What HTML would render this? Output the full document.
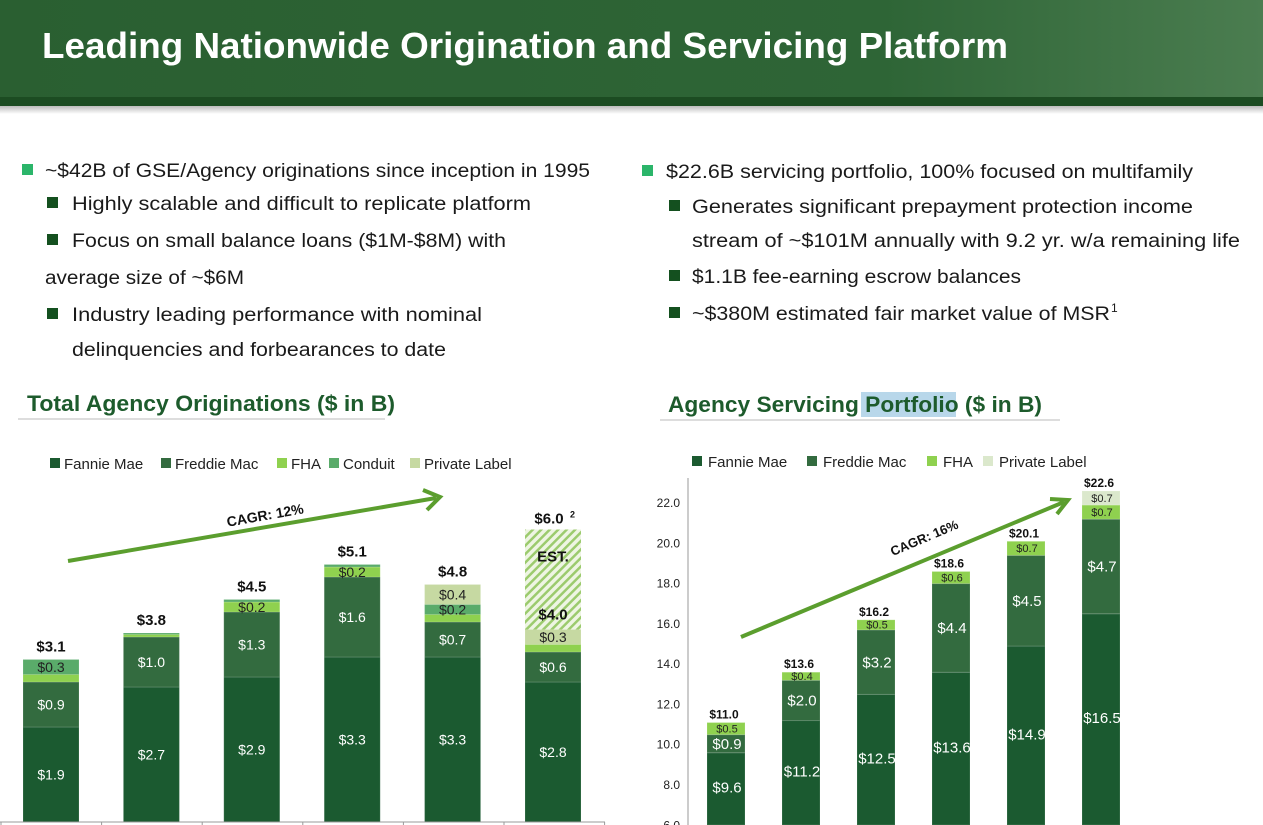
<!DOCTYPE html>
<html><head><meta charset="utf-8">
<style>
html,body{margin:0;padding:0;background:#fff;}
svg{display:block;font-family:"Liberation Sans",sans-serif;}
</style></head>
<body>
<svg id="page" width="1263" height="825" viewBox="0 0 1263 825" xmlns="http://www.w3.org/2000/svg">
<defs>
<linearGradient id="hdr" x1="0" x2="1" y1="0" y2="0">
<stop offset="0" stop-color="#2a5f31"/><stop offset="0.7" stop-color="#2e6536"/><stop offset="1" stop-color="#4b7d50"/>
</linearGradient>
<linearGradient id="shadow" x1="0" y1="0" x2="0" y2="1">
<stop offset="0" stop-color="#bbb"/><stop offset="1" stop-color="#fff"/>
</linearGradient>
<pattern id="hatch" width="6" height="6" patternUnits="userSpaceOnUse" patternTransform="rotate(45)">
<rect width="6" height="6" fill="#eef5e3"/><rect width="2.5" height="6" fill="#9ccb6e"/>
</pattern>
</defs>
<g>
<rect x="0" y="0" width="1263" height="98" fill="url(#hdr)"/>
<rect x="0" y="97" width="1263" height="9" fill="#1c4c22"/>
<rect x="0" y="106" width="1263" height="8" fill="url(#shadow)"/>
<text x="42" y="58" font-size="36" font-weight="bold" fill="#fff" textLength="966" lengthAdjust="spacingAndGlyphs">Leading Nationwide Origination and Servicing Platform</text>
</g>
<g font-size="19" fill="#1a1a1a">
<rect x="22" y="164" width="11" height="11" fill="#2bb56a"/>
<text x="45" y="177" textLength="545" lengthAdjust="spacingAndGlyphs">~$42B of GSE/Agency originations since inception in 1995</text>
<rect x="47" y="197" width="11" height="11" fill="#14501f"/>
<text x="72" y="210" textLength="459" lengthAdjust="spacingAndGlyphs">Highly scalable and difficult to replicate platform</text>
<rect x="47" y="234" width="11" height="11" fill="#14501f"/>
<text x="72" y="247" textLength="434" lengthAdjust="spacingAndGlyphs">Focus on small balance loans ($1M-$8M) with</text>
<text x="45" y="284" textLength="199" lengthAdjust="spacingAndGlyphs">average size of ~$6M</text>
<rect x="47" y="308" width="11" height="11" fill="#14501f"/>
<text x="72" y="321" textLength="410" lengthAdjust="spacingAndGlyphs">Industry leading performance with nominal</text>
<text x="72" y="356" textLength="374" lengthAdjust="spacingAndGlyphs">delinquencies and forbearances to date</text>
</g>
<g font-size="19" fill="#1a1a1a">
<rect x="642" y="165" width="11" height="11" fill="#2bb56a"/>
<text x="666" y="178" textLength="527" lengthAdjust="spacingAndGlyphs">$22.6B servicing portfolio, 100% focused on multifamily</text>
<rect x="669" y="200" width="11" height="11" fill="#14501f"/>
<text x="692" y="213" textLength="501" lengthAdjust="spacingAndGlyphs">Generates significant prepayment protection income</text>
<text x="692" y="247" textLength="548" lengthAdjust="spacingAndGlyphs">stream of ~$101M annually with 9.2 yr. w/a remaining life</text>
<rect x="669" y="270" width="11" height="11" fill="#14501f"/>
<text x="692" y="283" textLength="329" lengthAdjust="spacingAndGlyphs">$1.1B fee-earning escrow balances</text>
<rect x="669" y="307" width="11" height="11" fill="#14501f"/>
<text x="692" y="320" textLength="418" lengthAdjust="spacingAndGlyphs">~$380M estimated fair market value of MSR</text>
<text x="1111" y="312" font-size="12">1</text>
</g>
<g>
<text x="27" y="411" font-size="22" font-weight="bold" fill="#1d5b2c" textLength="368" lengthAdjust="spacingAndGlyphs">Total Agency Originations ($ in B)</text>
<rect x="18" y="418" width="367" height="2" fill="#ddd"/>
</g>
<g>
<rect x="861" y="392" width="95" height="25" fill="#b8d7ea"/>
<text x="668" y="412" font-size="22" font-weight="bold" fill="#1d5b2c" textLength="374" lengthAdjust="spacingAndGlyphs">Agency Servicing Portfolio ($ in B)</text>
<rect x="660" y="419" width="400" height="2" fill="#ddd"/>
</g>
<g id="left-chart"></g>
<g id="right-chart"></g>
</svg>
<script>
// ---- Left chart data ----
const origYears = ["2015","2016","2017","2018","2019","2020E"];
const origFannie = [1.9, 2.7, 2.9, 3.3, 3.3, 2.8];
const origFreddie = [0.9, 1.0, 1.3, 1.6, 0.7, 0.6];
const origFHA = [0.15, 0.05, 0.2, 0.2, 0.15, 0.15];
const origConduit = [0.3, 0.03, 0.05, 0.05, 0.2, 0.0];
const origPrivate = [0, 0, 0, 0, 0.4, 0.3];
const origTotals = ["$3.1","$3.8","$4.5","$5.1","$4.8","$4.0"];
const origEstimate = 5.85;
// ---- Right chart data ----
const svcYears = ["2015","2016","2017","2018","2019","2020"];
const svcFannie = [9.6, 11.2, 12.5, 13.6, 14.9, 16.5];
const svcFreddie = [0.9, 2.0, 3.2, 4.4, 4.5, 4.7];
const svcFHA = [0.6, 0.4, 0.5, 0.6, 0.7, 0.7];
const svcPrivate = [0, 0, 0, 0, 0, 0.7];
const svcTotals = ["$11.0","$13.6","$16.2","$18.6","$20.1","$22.6"];
const svcTicks = [6, 8, 10, 12, 14, 16, 18, 20, 22];

const NS = "http://www.w3.org/2000/svg";
function mk(parent, tag, attrs, txt){
  const e = document.createElementNS(NS, tag);
  for (const k in attrs) e.setAttribute(k, attrs[k]);
  if (txt !== undefined) e.textContent = txt;
  parent.appendChild(e);
  return e;
}
const COL = {fannie:"#1b5a30", freddie:"#336b3f", fha:"#8fd14f", conduit:"#5aab6a", priv:"#c6d9a2", priv2:"#dbe8cc"};

// ===== LEFT =====
const L = document.getElementById('left-chart');
const lBase = 822, lScale = 50, lBarW = 56;
const lx = i => 51 + i * 100.4;
const ly = v => lBase - v * lScale;

const lLeg = [["Fannie Mae",COL.fannie,50],["Freddie Mac",COL.freddie,161],["FHA",COL.fha,277],["Conduit",COL.conduit,329],["Private Label",COL.priv,410]];
lLeg.forEach(d=>{
  const g = mk(L,'g',{});
  
  
  mk(g,'rect',{x:d[2],y:458,width:10,height:10,fill:d[1]});
  mk(g,'text',{x:d[2]+14,y:469,'font-size':15,fill:'#222'},d[0]);
});

const lSeries = [[origFannie,COL.fannie,'#fff'],[origFreddie,COL.freddie,'#fff'],[origFHA,COL.fha,'#222'],[origConduit,COL.conduit,'#222'],[origPrivate,COL.priv,'#222']];
origYears.forEach((yr,i)=>{
  let cum = 0;
  const cx = lx(i);
  lSeries.forEach((s,si)=>{
    const v = s[0][i];
    if (v<=0) return;
    const r = mk(L,'rect',{x:cx-lBarW/2,y:ly(cum+v),width:lBarW,height:v*lScale,fill:s[1],stroke:'rgba(255,255,255,0.15)','stroke-width':1});
    
    
    if (v>=0.2){
      const t = mk(L,'text',{x:cx,y:ly(cum+v/2)+5,'font-size':14,'text-anchor':'middle',fill:s[2]},'$'+v.toFixed(1));
      
      
    }
    cum += v;
  });
  if (i === origYears.length-1){
    const h = mk(L,'rect',{x:cx-lBarW/2,y:ly(origEstimate),width:lBarW,height:(origEstimate-cum)*lScale,fill:'url(#hatch)'});
    
    
    mk(L,'text',{x:cx,y:ly(origEstimate)+32,'font-size':15,'font-weight':'bold','text-anchor':'middle',fill:'#111'},'EST.');
    mk(L,'text',{x:cx,y:ly(cum)-10,'font-size':15,'font-weight':'bold','text-anchor':'middle',fill:'#111'},origTotals[i]);
    const t = mk(L,'text',{x:cx-4,y:ly(origEstimate)-6,'font-size':15,'font-weight':'bold','text-anchor':'middle',fill:'#111'},'$6.0');
    
    
    mk(L,'text',{x:cx+17,y:ly(origEstimate)-12,'font-size':9,'font-weight':'bold',fill:'#111'},'2');
  } else {
    const t = mk(L,'text',{x:cx,y:ly(cum)-8,'font-size':15,'font-weight':'bold','text-anchor':'middle',fill:'#111'},origTotals[i]);
    
    
  }
});
mk(L,'line',{x1:0,y1:lBase,x2:605,y2:lBase,stroke:'#999','stroke-width':1});
for(let i=0;i<=6;i++){ mk(L,'line',{x1:1+i*100.6,y1:lBase,x2:1+i*100.6,y2:825,stroke:'#999'}); }
const la = mk(L,'g',{});


mk(la,'line',{x1:68,y1:561,x2:436,y2:498,stroke:'#5b9e2e','stroke-width':4});
mk(la,'polyline',{points:'423,490 440,497 427,510',fill:'none',stroke:'#5b9e2e','stroke-width':4});
mk(la,'text',{x:266,y:520,'font-size':14,'font-weight':'bold',fill:'#111','text-anchor':'middle',transform:'rotate(-10 266 520)'},'CAGR: 12%');

// ===== RIGHT =====
const R = document.getElementById('right-chart');
const rx = i => 726 + i * 75;
const ry = v => 785 - (v - 8) * 20.14;
const rBarW = 38;
const rLeg = [["Fannie Mae",COL.fannie,692],["Freddie Mac",COL.freddie,807],["FHA",COL.fha,927],["Private Label",COL.priv2,983]];
rLeg.forEach(d=>{
  const g = mk(R,'g',{});
  
  
  mk(g,'rect',{x:d[2],y:456,width:10,height:10,fill:d[1]});
  mk(g,'text',{x:d[2]+16,y:467,'font-size':15,fill:'#222'},d[0]);
});
svcTicks.forEach(t=>{
  const e = mk(R,'text',{x:680,y:ry(t)+4,'font-size':12,'text-anchor':'end',fill:'#222'},t.toFixed(1));
  
  
});
mk(R,'line',{x1:688,y1:478,x2:688,y2:825,stroke:'#999'});
const rSeries = [[svcFannie,COL.fannie,'#fff',15],[svcFreddie,COL.freddie,'#fff',15],[svcFHA,COL.fha,'#222',11],[svcPrivate,COL.priv2,'#222',11]];
svcYears.forEach((yr,i)=>{
  let cum = 0;
  const cx = rx(i);
  rSeries.forEach(s=>{
    const v = s[0][i];
    if (v<=0) return;
    const y0 = ry(cum), y1 = ry(cum+v);
    const r = mk(R,'rect',{x:cx-rBarW/2,y:y1,width:rBarW,height:Math.max(0,Math.min(825,y0)-y1),fill:s[1],stroke:'rgba(255,255,255,0.15)','stroke-width':1});
    
    
    const lbl = (i===0 && s[1]===COL.fha) ? '$0.5' : '$'+v.toFixed(1);
    const t = mk(R,'text',{x:cx+1,y:(y1+Math.min(y0,822))/2+s[3]*0.35,'font-size':s[3],'text-anchor':'middle',fill:s[2]},lbl);
    
    
    cum += v;
  });
  const t = mk(R,'text',{x:cx-2,y:ry(cum)-4,'font-size':12,'font-weight':'bold','text-anchor':'middle',fill:'#111'},svcTotals[i]);
  
  
});
const ra = mk(R,'g',{});


mk(ra,'line',{x1:741,y1:637,x2:1064,y2:502,stroke:'#5b9e2e','stroke-width':4});
mk(ra,'polyline',{points:'1050,499 1068,500 1057,514',fill:'none',stroke:'#5b9e2e','stroke-width':4});
mk(ra,'text',{x:926,y:542,'font-size':13,'font-weight':'bold',fill:'#111','text-anchor':'middle',transform:'rotate(-23 926 542)'},'CAGR: 16%');
</script>
</body></html>
